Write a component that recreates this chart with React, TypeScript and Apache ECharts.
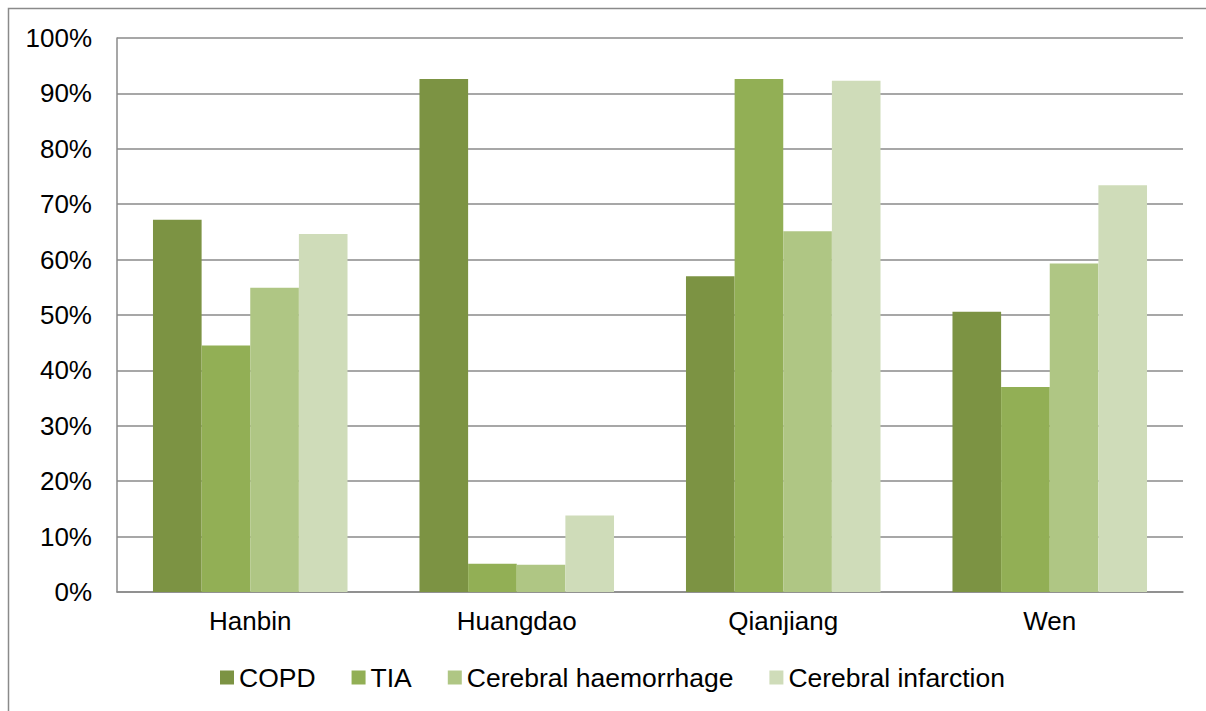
import React, { useEffect, useRef } from "react";
import * as echarts from "echarts";

const regions = ["Hanbin", "Huangdao", "Qianjiang", "Wen"];
const copd = [67.2, 92.6, 57.0, 50.6];
const tia = [44.5, 5.1, 92.6, 37.0];
const haemorrhage = [54.9, 4.9, 65.1, 59.3];
const infarction = [64.6, 13.8, 92.3, 73.4];

const seriesNames = ["COPD", "TIA", "Cerebral haemorrhage", "Cerebral infarction"];
const seriesColors = ["#7C9343", "#92AF55", "#AFC684", "#CFDCB9"];
const seriesData = [copd, tia, haemorrhage, infarction];

const FONT = '"Liberation Sans", Arial, sans-serif';

export default function App() {
  const ref = useRef<HTMLDivElement>(null);

  useEffect(() => {
    if (!ref.current) return;
    const chart = echarts.init(ref.current, undefined, { renderer: "svg" });
    chart.setOption({
      animation: false,
      backgroundColor: "#ffffff",
      textStyle: { fontFamily: FONT },
      graphic: [
        {
          type: "rect",
          shape: { x: 8.5, y: 8.5, width: 1220, height: 720 },
          style: { fill: "none", stroke: "#8a8a8a", lineWidth: 1.5 },
          silent: true,
        },
      ],
      grid: { left: 117, right: 23, top: 38, bottom: 119, containLabel: false },
      legend: {
        left: 215,
        top: 659,
        itemWidth: 14,
        itemHeight: 14,
        itemGap: 36,
        icon: "rect",
        textStyle: { fontSize: 26.5, color: "#000", fontFamily: FONT },
        data: seriesNames,
      },
      xAxis: {
        type: "category",
        data: regions,
        axisLine: { show: true, lineStyle: { color: "#8a8a8a", width: 1.5 } },
        axisTick: { show: false },
        axisLabel: { fontSize: 26, color: "#000", margin: 16, fontFamily: FONT },
      },
      yAxis: {
        type: "value",
        min: 0,
        max: 100,
        interval: 10,
        axisLine: { show: true, lineStyle: { color: "#8a8a8a", width: 1.5 } },
        axisTick: { show: false },
        splitLine: { show: true, lineStyle: { color: "#8a8a8a", width: 1.5 } },
        axisLabel: {
          fontSize: 26,
          color: "#000",
          margin: 25,
          fontFamily: FONT,
          formatter: (v: number) => `${v}%`,
        },
      },
      series: seriesNames.map((name, i) => ({
        name,
        type: "bar",
        data: seriesData[i],
        barGap: "0%",
        barCategoryGap: "27%",
        itemStyle: { color: seriesColors[i] },
      })),
    });
    return () => chart.dispose();
  }, []);

  return (
    <div
      ref={ref}
      style={{ position: "fixed", left: 0, top: 0, width: 1206, height: 711 }}
    />
  );
}
